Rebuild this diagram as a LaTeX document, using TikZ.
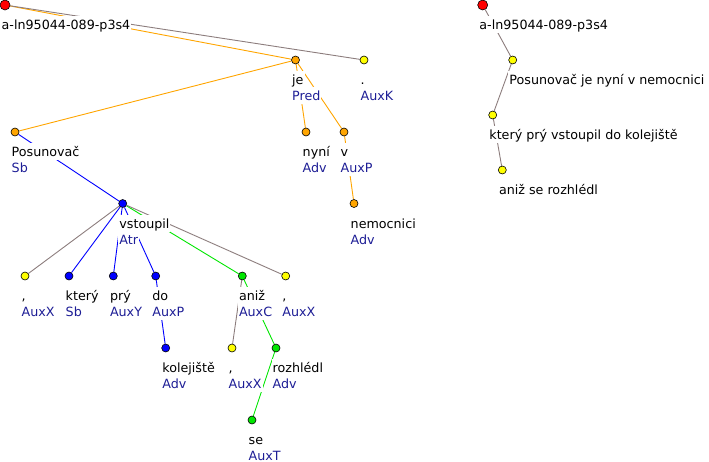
\documentclass[tikz,border=0pt]{standalone}
\usepackage{fontspec}
\setmainfont{DejaVu Sans}
\usetikzlibrary{backgrounds}
\definecolor{edgegray}{RGB}{140,125,125}
\definecolor{funcblue}{RGB}{30,30,150}
\definecolor{nodegreen}{RGB}{0,230,0}
\definecolor{nodeorange}{RGB}{255,165,0}
\definecolor{nodeyellow}{RGB}{255,255,0}
\definecolor{nodeblue}{RGB}{0,0,255}

\begin{document}
\begin{tikzpicture}[x=1pt, y=-1pt, font=\fontsize{12.7}{15}\selectfont, dot/.style={circle, draw=black, line width=0.6pt, inner sep=0pt, minimum size=8pt}, word/.style={anchor=base west, fill=white, inner xsep=1pt, inner ysep=1.5pt, text height=12pt, text depth=2pt, xshift=-4.5pt, yshift=-24.5pt}, func/.style={anchor=base west, fill=white, inner xsep=1pt, inner ysep=1.5pt, text height=12pt, text depth=2pt, text=funcblue, xshift=-4.5pt, yshift=-40.5pt}, edge/.style={line width=0.9pt}]
  \useasboundingbox (0,0) rectangle (709,461);
  \node[dot, fill=red, minimum size=10pt] (root) at (5,5) {};
  \node[word] (root-w) at (root) {a-ln95044-089-p3s4};
  \foreach \n/\x/\y/\c/\w/\f in {je/295.5/60/nodeorange/je/Pred, dotk/364/60/nodeyellow/./AuxK,
    posunovac/15/132/nodeorange/Posunovač/Sb, nyni/306/132/nodeorange/nyní/Adv, v/344/132/nodeorange/v/AuxP,
    vstoupil/122.7/203.5/nodeblue/vstoupil/Atr, nemocnici/354/203.5/nodeorange/nemocnici/Adv,
    comma1/25/276/nodeyellow/{,}/AuxX, ktery/69/276/nodeblue/který/Sb, pry/113.3/276/nodeblue/prý/AuxY,
    do/155.7/276/nodeblue/do/AuxP, aniz/242.3/276/nodegreen/aniž/AuxC, comma2/285.7/276/nodeyellow/{,}/AuxX,
    kolejiste/165.7/348/nodeblue/kolejiště/Adv, comma3/232/348/nodeyellow/{,}/AuxX, rozhledl/276/348/nodegreen/rozhlédl/Adv,
    se/252/420/nodegreen/se/AuxT}
  {
    \node[dot, fill=\c] (\n) at (\x,\y) {};
    \node[word] (\n-w) at (\n) {\w};
    \node[func] (\n-f) at (\n) {\f};
  }
  \node[dot, fill=red, minimum size=10pt] (sroot) at (482.7,5) {};
  \node[word] (sroot-w) at (sroot) {a-ln95044-089-p3s4};
  \foreach \n/\x/\y/\w in {sent1/512.7/60/Posunovač je nyní v nemocnici, sent2/492.7/115/který prý vstoupil do kolejiště, sent3/502.3/170/aniž se rozhlédl}
  {
    \node[dot, fill=nodeyellow] (\n) at (\x,\y) {};
    \node[word] (\n-w) at (\n) {\w};
  }
  \begin{pgfonlayer}{background}
    \foreach \a/\b/\c in {root/je/nodeorange, root/dotk/edgegray, je/posunovac/nodeorange, je/nyni/nodeorange,
      je/v/nodeorange, v/nemocnici/nodeorange, posunovac/vstoupil/nodeblue, vstoupil/comma1/edgegray,
      vstoupil/ktery/nodeblue, vstoupil/pry/nodeblue, vstoupil/do/nodeblue, vstoupil/aniz/nodegreen,
      vstoupil/comma2/edgegray, do/kolejiste/nodeblue, aniz/comma3/edgegray, aniz/rozhledl/nodegreen,
      rozhledl/se/nodegreen, sroot/sent1/edgegray, sent1/sent2/edgegray, sent2/sent3/edgegray}
      \draw[edge, \c] (\a) -- (\b);
  \end{pgfonlayer}
\end{tikzpicture}
\end{document}
